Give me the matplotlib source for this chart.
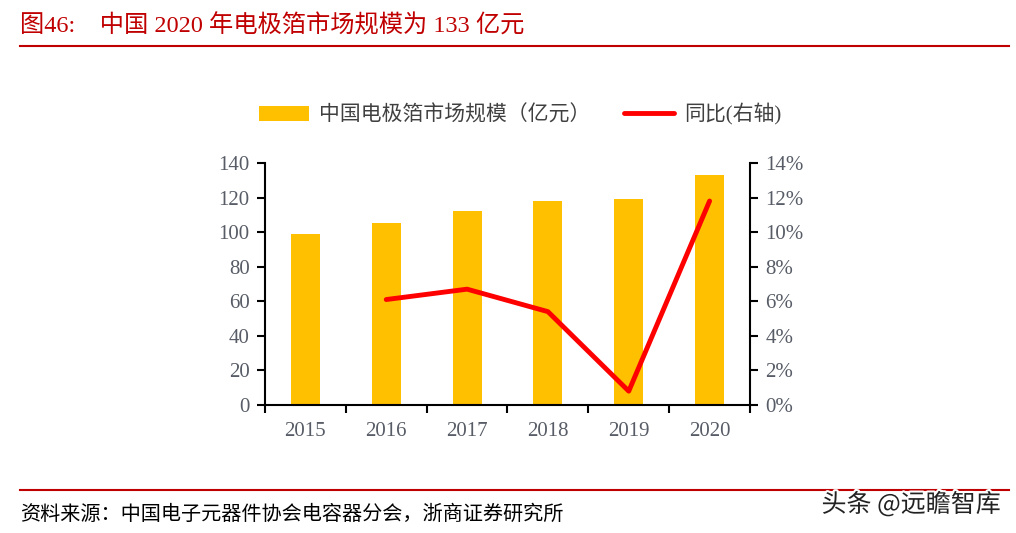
import matplotlib.pyplot as plt
import numpy as np
from matplotlib import patheffects

plt.rcParams['font.family'] = ['Liberation Serif', 'Noto Sans CJK SC', 'DejaVu Sans']

# 数据
years = ['2015', '2016', '2017', '2018', '2019', '2020']
scale = [99, 105, 112, 118, 119, 133]          # 亿元
yoy_years = ['2016', '2017', '2018', '2019', '2020']
yoy = [6.1, 6.7, 5.4, 0.8, 11.8]               # %

title_red = '#C00000'
tick_grey = '#575c66'

fig = plt.figure(figsize=(10.16, 5.33), dpi=100)
ax = fig.add_axes([0.2608, 0.2402, 0.4774, 0.4540])
x = np.arange(len(years))
bars = ax.bar(x, scale, width=0.36, color='#FFC000', label='中国电极箔市场规模（亿元）', zorder=2)

ax.set_xlim(-0.5, len(years) - 0.5)
ax.set_ylim(0, 140)
ax.set_yticks(np.arange(0, 141, 20))
ax.set_xticks(x)
ax.set_xticklabels(years)
ax.set_xticks(np.arange(-0.5, len(years), 1), minor=True)
ax.tick_params(axis='x', which='major', length=0, pad=12, labelsize=15, labelcolor=tick_grey)
ax.tick_params(axis='x', which='minor', length=6, width=1.5, direction='out')
ax.tick_params(axis='y', length=6, width=1.5, direction='out', labelsize=15, labelcolor=tick_grey, pad=5)
for s in ['top', 'right']:
    ax.spines[s].set_visible(False)
ax.spines['left'].set_linewidth(1.5)
ax.spines['bottom'].set_linewidth(1.5)

ax2 = ax.twinx()
xi = [years.index(y) for y in yoy_years]
line, = ax2.plot(xi, yoy, color='#FF0000', lw=3.5, solid_capstyle='round', label='同比(右轴)', zorder=3)
ax2.set_ylim(0, 14)
ax2.set_yticks(np.arange(0, 15, 2))
ax2.set_yticklabels([f'{v}%' for v in range(0, 15, 2)])
ax2.tick_params(axis='y', length=6, width=1.5, direction='out', labelsize=15, labelcolor=tick_grey, pad=5)
for s in ['top', 'left', 'bottom']:
    ax2.spines[s].set_visible(False)
ax2.spines['right'].set_linewidth(1.5)

fig.legend([bars, line], ['中国电极箔市场规模（亿元）', '同比(右轴)'], loc='center',
           bbox_to_anchor=(0.512, 0.785), ncol=2, frameon=False, fontsize=15,
           handlelength=2.4, handleheight=0.75, handletextpad=0.5, columnspacing=1.6,
           labelcolor='#404040')

# 标题与来源
fig.text(0.02, 0.952, '图46:    中国 2020 年电极箔市场规模为 133 亿元', color=title_red,
         fontsize=17.5, va='center', ha='left')
fig.add_artist(plt.Line2D([0.02, 0.993], [0.914, 0.914], color=title_red, lw=1.5))
fig.add_artist(plt.Line2D([0.02, 0.993], [0.081, 0.081], color=title_red, lw=1.5))
fig.text(0.02, 0.033, '资料来源：中国电子元器件协会电容器分会，浙商证券研究所', color='black',
         fontsize=14.5, va='center', ha='left')
wm = fig.text(0.985, 0.053, '头条 @远瞻智库', color='#222222', fontsize=18,
              va='center', ha='right', family=['Noto Sans CJK SC', 'DejaVu Sans'])
wm.set_path_effects([patheffects.withStroke(linewidth=3, foreground='white')])

fig.savefig('out.png', dpi=100)
